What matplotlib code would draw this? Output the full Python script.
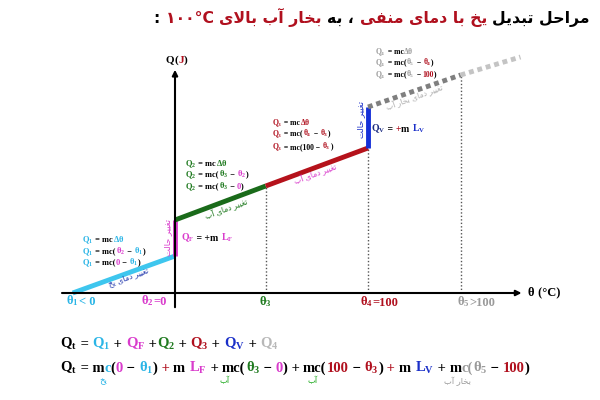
import matplotlib
matplotlib.use('Agg')
import matplotlib.pyplot as plt
from matplotlib.offsetbox import TextArea, HPacker, AnnotationBbox

plt.rcParams['mathtext.fontset'] = 'custom'
plt.rcParams['mathtext.rm'] = 'Liberation Serif:bold'
plt.rcParams['mathtext.it'] = 'Liberation Serif:bold'
plt.rcParams['mathtext.bf'] = 'Liberation Serif:bold'

# data: temperature (C) and heat (arbitrary units)
theta1, theta3, theta5, theta_end = -53, 47, 148, 179
ice_theta = [theta1, 0]
ice_Q = [0, 37]
melt_Q = [37, 73]
water_theta = [0, theta3]
water_Q = [73, 107]
hot_theta = [theta3, 100]
hot_Q = [107, 145]
vap_Q = [145, 186]
steam_theta = [100, theta5]
steam_Q = [186, 218]
steam2_theta = [theta5, theta_end]
steam2_Q = [218, 236]

K = 'black'
CYAN = '#2bb5e6'
MAG = '#d93ccc'
GREEN = '#1f7a1f'
RED = '#b0101e'
BLUE = '#1a2fc8'
GRAY = '#9a9a9a'

# simple persian shaping (presentation forms), output in visual order
FORMS = {
    'ا': ('\ufe8d', '\ufe8e'), 'آ': ('\ufe81', '\ufe82'),
    'د': ('\ufea9', '\ufeaa'), 'ر': ('\ufead', '\ufeae'),
    'ب': ('\ufe8f', '\ufe90', '\ufe91', '\ufe92'),
    'ت': ('\ufe95', '\ufe96', '\ufe97', '\ufe98'),
    'ح': ('\ufea1', '\ufea2', '\ufea3', '\ufea4'),
    'خ': ('\ufea5', '\ufea6', '\ufea7', '\ufea8'),
    'غ': ('\ufecd', '\ufece', '\ufecf', '\ufed0'),
    'ف': ('\ufed1', '\ufed2', '\ufed3', '\ufed4'),
    'ل': ('\ufedd', '\ufede', '\ufedf', '\ufee0'),
    'م': ('\ufee1', '\ufee2', '\ufee3', '\ufee4'),
    'ن': ('\ufee5', '\ufee6', '\ufee7', '\ufee8'),
    'ه': ('\ufee9', '\ufeea', '\ufeeb', '\ufeec'),
    'ی': ('\ufeef', '\ufef0', '\ufef3', '\ufef4'),
}
LAMALEF = {'ا': ('\ufefb', '\ufefc'), 'آ': ('\ufef5', '\ufef6')}


def fa(s):
    out = []
    i = 0
    while i < len(s):
        c = s[i]
        if c not in FORMS:
            out.append(c)
            i += 1
            continue
        prev = s[i - 1] if i > 0 else ''
        jp = prev in FORMS and len(FORMS[prev]) == 4
        nxt = s[i + 1] if i + 1 < len(s) else ''
        if c == 'ل' and nxt in LAMALEF:
            out.append(LAMALEF[nxt][1] if jp else LAMALEF[nxt][0])
            i += 2
            continue
        f = FORMS[c]
        jn = len(f) == 4 and nxt in FORMS
        if jp and jn:
            out.append(f[3])
        elif jp:
            out.append(f[1])
        elif jn:
            out.append(f[2])
        else:
            out.append(f[0])
        i += 1
    return ''.join(reversed(out))


fig = plt.figure(figsize=(6, 4), dpi=100)
ax = fig.add_axes([0, 0, 1, 1])
sx = 1.93
ax.set_xlim(-175 / sx, 425 / sx)
ax.set_ylim(-107, 293)
ax.axis('off')


def colored(parts, size, family='Liberation Serif', weight='bold'):
    boxes = [TextArea(t, textprops=dict(color=c, fontsize=size, family=family, weight=weight))
             for t, c in parts]
    return HPacker(children=boxes, align='baseline', pad=0, sep=0)


def place(parts, x, y, size, ha=0, **kw):
    box = colored(parts, size, **kw)
    ab = AnnotationBbox(box, (x / 600, 1 - y / 400), xycoords='figure fraction',
                        box_alignment=(ha, 0.5), frameon=False, pad=0)
    ax.add_artist(ab)


# axes with arrows
ax.annotate('', xy=(181, 0), xytext=(-60, 0),
            arrowprops=dict(arrowstyle='-|>', lw=1.5, color=K, mutation_scale=8))
ax.annotate('', xy=(0, 226), xytext=(0, -17),
            arrowprops=dict(arrowstyle='-|>', lw=1.5, color=K, mutation_scale=8))

# guide lines
ax.vlines([theta3, 100, theta5], 0, [water_Q[1], hot_Q[1], steam_Q[1]],
          colors='#555555', linestyles=(0, (1, 1.5)), lw=1)

# heating curve
ax.plot(ice_theta, ice_Q, color='#3ec6ee', lw=3.5, solid_capstyle='butt')
ax.plot([0, 0], melt_Q, color=MAG, lw=3.5, solid_capstyle='butt')
ax.plot(water_theta, water_Q, color='#1a6b1a', lw=3.5, solid_capstyle='butt')
ax.plot(hot_theta, hot_Q, color='#b5121b', lw=3.5, solid_capstyle='butt')
ax.plot([100, 100], vap_Q, color='#1530d8', lw=3.5, solid_capstyle='butt')
ax.plot(steam_theta, steam_Q, color='#7f7f7f', lw=3.5, linestyle=(0, (1, 0.8)))
ax.plot(steam2_theta, steam2_Q, color='#c4c4c4', lw=3.5, linestyle=(0, (1, 0.8)))

# title
title = [(': ', K), ('\u06f1\u06f0\u06f0\u00b0C ', RED), (fa('بخار آب بالای') + ' ', RED),
         (fa('، به') + ' ', K), (fa('یخ با دمای منفی') + ' ', RED), (fa('مراحل تبدیل'), K)]
place(title, 590, 17, 11.3, ha=1, family='DejaVu Sans')

# axis labels
place([('Q', K), ('(', K), ('J', RED), (')', K)], 166, 60, 8)
place([(r'$\theta$', K), (' (°C)', K)], 527, 293, 9)

# tick labels
place([(r'$\theta_1$', CYAN), ('< 0', CYAN)], 66, 301, 9)
place([(r'$\theta_2$', MAG), ('=0', MAG)], 141, 301, 9)
place([(r'$\theta_3$', GREEN)], 259, 302, 9)
place([(r'$\theta_4$', RED), ('=100', RED)], 360, 302, 9)
place([(r'$\theta_5$', GRAY), ('>100', GRAY)], 457, 302, 9)

# ice
place([('$Q_1$', CYAN), (' = mc', K), (r'$\Delta\theta$', CYAN)], 82, 240, 6)
place([('$Q_1$', CYAN), (' = mc(', K), (r'$\theta_2$', MAG), (' − ', K),
       (r'$\theta_1$', CYAN), (')', K)], 82, 252, 6)
place([('$Q_1$', CYAN), (' = mc(', K), ('0', MAG), (' − ', K),
       (r'$\theta_1$', CYAN), (')', K)], 82, 263, 6)
fig.text(128 / 600, 1 - 277 / 400, fa('تغییر دمای یخ'), color='#2a3fb0', fontsize=5.5,
         rotation=20, ha='center', va='center')

# melting
fig.text(168 / 600, 1 - 238 / 400, fa('تغییر حالت'), color=MAG, fontsize=6,
         rotation=90, ha='center', va='center')
place([('$Q_F$', MAG), (' = +m ', K), ('$L_F$', MAG)], 181, 238, 7)

# water
place([('$Q_2$', GREEN), (' = mc', K), (r'$\Delta\theta$', GREEN)], 185, 164, 6)
place([('$Q_2$', GREEN), (' = mc(', K), (r'$\theta_3$', GREEN), (' − ', K),
       (r'$\theta_2$', MAG), (')', K)], 185, 175, 6)
place([('$Q_2$', GREEN), (' = mc(', K), (r'$\theta_3$', GREEN), (' − ', K),
       ('0', MAG), (')', K)], 185, 187, 6)
fig.text(226 / 600, 1 - 209 / 400, fa('تغییر دمای آب'), color=GREEN, fontsize=5.5,
         rotation=20, ha='center', va='center')

# hot water
place([('$Q_3$', RED), (' = mc', K), (r'$\Delta\theta$', RED)], 272, 123, 5.5)
place([('$Q_3$', RED), (' = mc(', K), (r'$\theta_4$', RED), (' − ', K),
       (r'$\theta_3$', RED), (')', K)], 272, 134, 5.5)
place([('$Q_3$', RED), (' = mc(100 − ', K), (r'$\theta_3$', RED), (')', K)], 272, 147, 5.5)
fig.text(315 / 600, 1 - 174 / 400, fa('تغییر دمای آب'), color=MAG, fontsize=5.5,
         rotation=20, ha='center', va='center')

# vaporization
fig.text(361 / 600, 1 - 120 / 400, fa('تغییر حالت'), color=BLUE, fontsize=6,
         rotation=90, ha='center', va='center')
place([('$Q_V$', '#1a2a80'), (' = ', K), ('+', RED), ('m ', K), ('$L_V$', BLUE)], 371, 129, 7)

# steam
place([('$Q_4$', GRAY), (' = mc', K), (r'$\Delta\theta$', GRAY)], 375, 52, 5.5)
place([('$Q_4$', GRAY), (' = mc(', K), (r'$\theta_5$', GRAY), (' − ', K),
       (r'$\theta_4$', RED), (')', K)], 375, 63, 5.5)
place([('$Q_4$', GRAY), (' = mc(', K), (r'$\theta_5$', GRAY), (' − ', K),
       ('100', RED), (')', K)], 375, 75, 5.5)
fig.text(415 / 600, 1 - 98 / 400, fa('تغییر دمای بخار آب'), color='#b0b0b0', fontsize=5.5,
         rotation=20, ha='center', va='center')

# equations
line1 = [('$Q_t$', K), (' = ', K), ('$Q_1$', CYAN), (' + ', K), ('$Q_F$', MAG), (' +', K),
         ('$Q_2$', GREEN), (' + ', K), ('$Q_3$', RED), (' + ', K), ('$Q_V$', BLUE),
         (' + ', K), ('$Q_4$', '#b8b8b8')]
place(line1, 60, 344, 10.5)
line2 = [('$Q_t$', K), (' = m', K), ('c', CYAN), ('(', K), ('0', MAG), (' − ', K),
         (r'$\theta_1$', CYAN), (')', K), (' + ', RED), ('m ', K), ('$L_F$', MAG),
         (' + ', K), ('mc(', K), (r'$\theta_3$', GREEN), (' − ', K), ('0', MAG), (')', K),
         (' + ', K), ('mc(', K), ('100', RED), (' − ', K), (r'$\theta_3$', RED), (')', K),
         (' + ', RED), ('m ', K), ('$L_V$', BLUE), (' + ', K), ('m', K), ('c(', GRAY),
         (r'$\theta_5$', GRAY), (' − ', K), ('100', RED), (')', K)]
place(line2, 60, 368, 10.5)
fig.text(103 / 600, 1 - 381 / 400, fa('یخ'), color=CYAN, fontsize=6, ha='center', va='center')
fig.text(225 / 600, 1 - 381 / 400, fa('آب'), color='#22aa22', fontsize=6, ha='center', va='center')
fig.text(313 / 600, 1 - 381 / 400, fa('آب'), color='#22aa22', fontsize=6, ha='center', va='center')
fig.text(457 / 600, 1 - 381 / 400, fa('بخار آب'), color=GRAY, fontsize=6, ha='center', va='center')

fig.savefig('out.png', dpi=100)
